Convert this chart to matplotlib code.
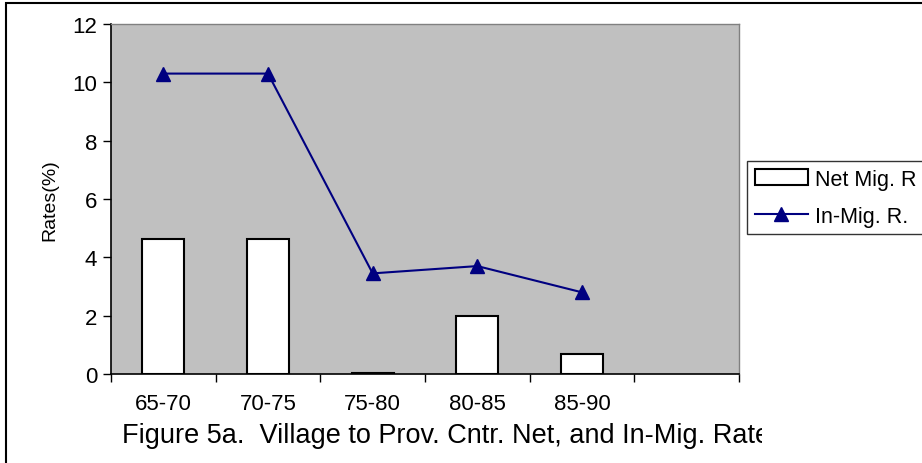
import matplotlib
matplotlib.use('Agg')
import matplotlib.pyplot as plt
from matplotlib.patches import Rectangle
from matplotlib.transforms import Bbox

# chart data
periods = ['65-70', '70-75', '75-80', '80-85', '85-90']
net_mig = [4.62, 4.62, 0.05, 2.0, 0.7]
in_mig = [10.3, 10.3, 3.45, 3.7, 2.8]
y_ticks = [0, 2, 4, 6, 8, 10, 12]

plt.rcParams['font.family'] = ['Liberation Sans', 'DejaVu Sans']

W, H = 922, 464
fig = plt.figure(figsize=(W / 100, H / 100), dpi=100)
ax = fig.add_axes([111 / W, 1 - 375 / H, (739 - 111) / W, (375 - 25) / H])
ax.set_facecolor('#C0C0C0')

xs = [i + 0.5 for i in range(len(periods))]
bars = ax.bar(xs, net_mig, width=0.4, color='white', edgecolor='black',
              linewidth=1.5, zorder=2)
line, = ax.plot(xs, in_mig, color='#000080', linewidth=1.5, marker='^',
                markersize=10, zorder=3)

ax.set_xlim(0, 6)
ax.set_ylim(0, 12)
ax.set_yticks(y_ticks)
ax.set_yticklabels([str(v) for v in y_ticks], fontsize=16)
ax.set_xticks(range(7))
ax.set_xticklabels([''] * 7)
ax.set_xticks(xs, minor=True)
ax.set_xticklabels(periods, minor=True, fontsize=16)
ax.tick_params(axis='x', which='minor', length=0, pad=14)
ax.tick_params(axis='x', which='major', length=6, direction='out', width=1)
ax.tick_params(axis='y', length=6, direction='out', width=1, pad=4)

for s in ['left', 'bottom']:
    ax.spines[s].set_color('black')
    ax.spines[s].set_linewidth(1.2)
for s in ['top', 'right']:
    ax.spines[s].set_color('#808080')
    ax.spines[s].set_linewidth(1)

ax.set_ylabel('Rates(%)', fontsize=14, labelpad=10)

# legend sits partly outside the picture, as in the original
fig.legend([bars, line], ['Net Mig. R', 'In-Mig. R.'],
           loc='upper left', bbox_to_anchor=(747 / W, 1 - 162 / H),
           fontsize=15.5, frameon=True, fancybox=False, edgecolor='black',
           handlelength=2.5, handletextpad=0.3, borderpad=0.35,
           labelspacing=0.75, borderaxespad=0)

# caption, cut off on the right like the original
cap = fig.text(122 / W, 1 - 436 / H,
               'Figure 5a.  Village to Prov. Cntr. Net, and In-Mig. Rates',
               fontsize=19.5, ha='left', va='center')
cap.set_clip_box(Bbox.from_extents(0, 0, 762, H))
cap.set_clip_on(True)

# outer chart border
fig.patches.append(Rectangle((6 / W, -0.1), 2, 1 - 4 / H + 0.1,
                             transform=fig.transFigure, fill=False,
                             edgecolor='black', linewidth=1.5))

fig.savefig('out.png', dpi=100)
